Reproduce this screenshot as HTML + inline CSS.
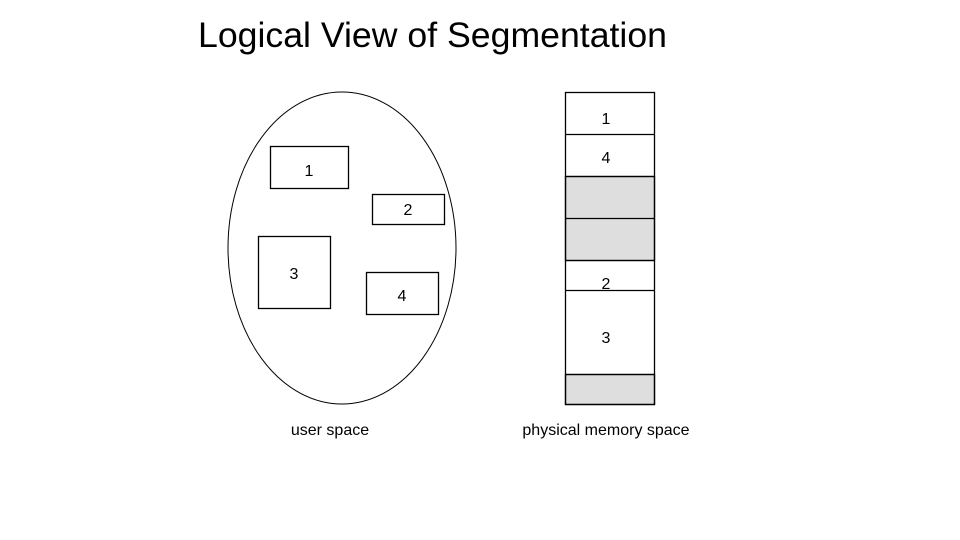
<!DOCTYPE html>
<html><head><meta charset="utf-8"><style>
html,body{margin:0;padding:0;background:#fff;}
svg{display:block;}
text{font-family:"Liberation Sans",Arial,sans-serif;fill:#000;}
</style></head><body>
<svg width="960" height="540" viewBox="0 0 960 540" xmlns="http://www.w3.org/2000/svg">
<text x="198" y="47" font-size="35" textLength="469" lengthAdjust="spacingAndGlyphs" style="font-weight:300">Logical View of Segmentation</text>
<ellipse cx="342" cy="248" rx="114" ry="156" fill="none" stroke="#000" stroke-width="1"/>
<g fill="none" stroke="#000" stroke-width="1.3">
<rect x="270.5" y="146.5" width="78" height="42"/>
<rect x="372.5" y="194.5" width="72" height="30"/>
<rect x="258.5" y="236.5" width="72" height="72"/>
<rect x="366.5" y="272.5" width="72" height="42"/>
</g>
<g font-size="16" text-anchor="middle">
<text x="309" y="176">1</text>
<text x="408" y="215">2</text>
<text x="294" y="279">3</text>
<text x="402" y="301">4</text>
</g>
<g stroke="#000" stroke-width="1.3">
<rect x="565.5" y="176.5" width="89" height="84" fill="#dedede"/>
<rect x="565.5" y="374.5" width="89" height="30" fill="#dedede"/>
<rect x="565.5" y="92.5" width="89" height="312" fill="none"/>
<line x1="565" y1="134.5" x2="655" y2="134.5"/>
<line x1="565" y1="176.5" x2="655" y2="176.5"/>
<line x1="565" y1="218.5" x2="655" y2="218.5"/>
<line x1="565" y1="260.5" x2="655" y2="260.5"/>
<line x1="565" y1="290.5" x2="655" y2="290.5"/>
<line x1="565" y1="374.5" x2="655" y2="374.5"/>
</g>
<g font-size="16" text-anchor="middle">
<text x="606" y="124">1</text>
<text x="606" y="163">4</text>
<text x="606" y="289">2</text>
<text x="606" y="343">3</text>
</g>
<text x="330" y="435" font-size="16" text-anchor="middle">user space</text>
<text x="606" y="435" font-size="16" text-anchor="middle">physical memory space</text>
</svg>
</body></html>
